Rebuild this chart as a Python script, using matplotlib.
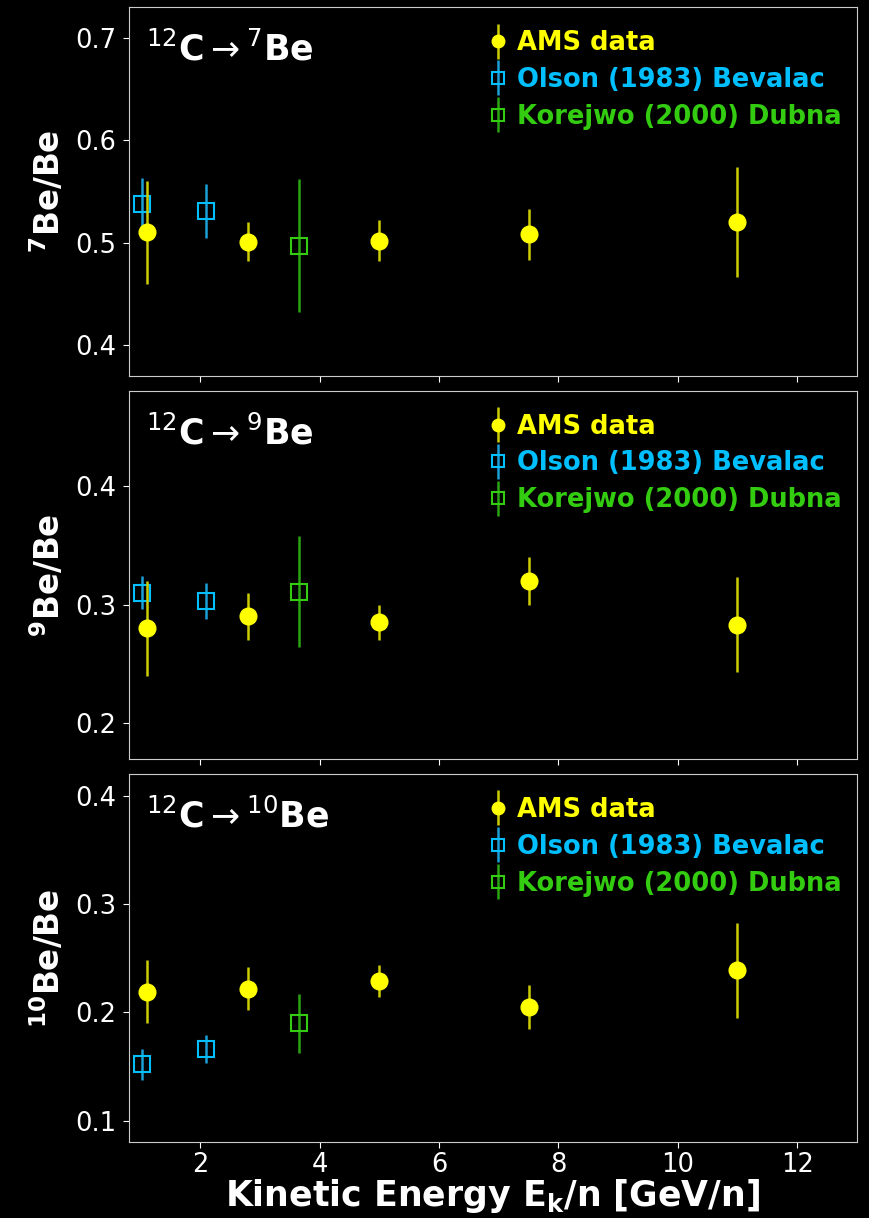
import matplotlib.pyplot as plt
from matplotlib.legend_handler import HandlerErrorbar
from matplotlib.container import ErrorbarContainer

# energies [GeV/n]
ams_x = [1.1, 2.8, 5.0, 7.5, 11.0]
olson_x = [1.03, 2.09]
korejwo_x = [3.65]

# 7Be/Be
ams_be7 = [0.510, 0.501, 0.502, 0.508, 0.520]
ams_be7_err = [0.050, 0.019, 0.020, 0.025, 0.054]
olson_be7 = [0.538, 0.531]
olson_be7_err = [0.025, 0.026]
korejwo_be7 = [0.497]
korejwo_be7_err = [0.065]

# 9Be/Be
ams_be9 = [0.280, 0.290, 0.285, 0.320, 0.283]
ams_be9_err = [0.040, 0.020, 0.015, 0.020, 0.040]
olson_be9 = [0.310, 0.303]
olson_be9_err = [0.014, 0.015]
korejwo_be9 = [0.311]
korejwo_be9_err = [0.047]

# 10Be/Be
ams_be10 = [0.219, 0.222, 0.229, 0.205, 0.239]
ams_be10_err = [0.029, 0.020, 0.015, 0.020, 0.044]
olson_be10 = [0.152, 0.166]
olson_be10_err = [0.014, 0.013]
korejwo_be10 = [0.190]
korejwo_be10_err = [0.027]

panels = [
    (ams_be7, ams_be7_err, olson_be7, olson_be7_err, korejwo_be7, korejwo_be7_err,
     r'$^{\mathbf{7}}$Be/Be', r'$^{12}$C$\rightarrow$$^{7}$Be', (0.37, 0.73), [0.4, 0.5, 0.6, 0.7]),
    (ams_be9, ams_be9_err, olson_be9, olson_be9_err, korejwo_be9, korejwo_be9_err,
     r'$^{\mathbf{9}}$Be/Be', r'$^{12}$C$\rightarrow$$^{9}$Be', (0.17, 0.48), [0.2, 0.3, 0.4]),
    (ams_be10, ams_be10_err, olson_be10, olson_be10_err, korejwo_be10, korejwo_be10_err,
     r'$^{\mathbf{10}}$Be/Be', r'$^{12}$C$\rightarrow$$^{10}$Be', (0.08, 0.42), [0.1, 0.2, 0.3, 0.4]),
]

ams_col = '#ffff00'
ams_ecol = '#cccc00'
olson_col = '#00bfff'
olson_ecol = '#1a9fd6'
kor_col = '#33cc11'
kor_ecol = '#2aa512'

fig, axes = plt.subplots(3, 1, figsize=(8.69, 12.18), dpi=100, sharex=True,
                         facecolor='black')
fig.subplots_adjust(left=0.148, right=0.986, top=0.994, bottom=0.062, hspace=0.041)

for ax, (a, ae, o, oe, k, ke, ylab, title, ylim, yt) in zip(axes, panels):
    ax.set_facecolor('black')
    ax.errorbar(ams_x, a, yerr=ae, fmt='o', color=ams_col, ecolor=ams_ecol,
                ms=12, elinewidth=1.8, label='AMS data', zorder=3)
    ax.errorbar(olson_x, o, yerr=oe, fmt='s', mfc='none', mec=olson_col, ecolor=olson_ecol,
                ms=12, mew=1.5, elinewidth=1.8, label='Olson (1983) Bevalac', zorder=2)
    ax.errorbar(korejwo_x, k, yerr=ke, fmt='s', mfc='none', mec=kor_col, ecolor=kor_ecol,
                ms=12, mew=1.5, elinewidth=1.8, label='Korejwo (2000) Dubna', zorder=2)
    ax.set_ylim(*ylim)
    ax.set_yticks(yt)
    ax.set_xlim(0.8, 13)
    ax.set_ylabel(ylab, color='white', fontsize=23.5, fontweight='bold', labelpad=6)
    ax.text(0.024, 0.885, title, transform=ax.transAxes, color='white', fontsize=25,
            fontweight='bold', va='center')
    ax.tick_params(colors='white', labelsize=18.5, length=4, pad=5)
    ax.tick_params(axis='x', pad=3)
    for s in ax.spines.values():
        s.set_color('#cccccc')
    leg = ax.legend(loc='upper right', bbox_to_anchor=(1.0, 0.98), frameon=False,
                    markerscale=0.75, handlelength=0.6, handletextpad=0.45,
                    borderaxespad=0.2, labelspacing=0.42,
                    prop={'weight': 'bold', 'size': 18.5},
                    handler_map={ErrorbarContainer: HandlerErrorbar(yerr_size=0.68)})
    for t, c in zip(leg.get_texts(), [ams_col, olson_col, kor_col]):
        t.set_color(c)

axes[-1].set_xticks([2, 4, 6, 8, 10, 12])
axes[-1].set_xlabel(r'Kinetic Energy E$_{\mathbf{k}}$/n [GeV/n]', color='white',
                    fontsize=25, fontweight='bold', labelpad=-1)

fig.savefig('out.png', facecolor='black')
